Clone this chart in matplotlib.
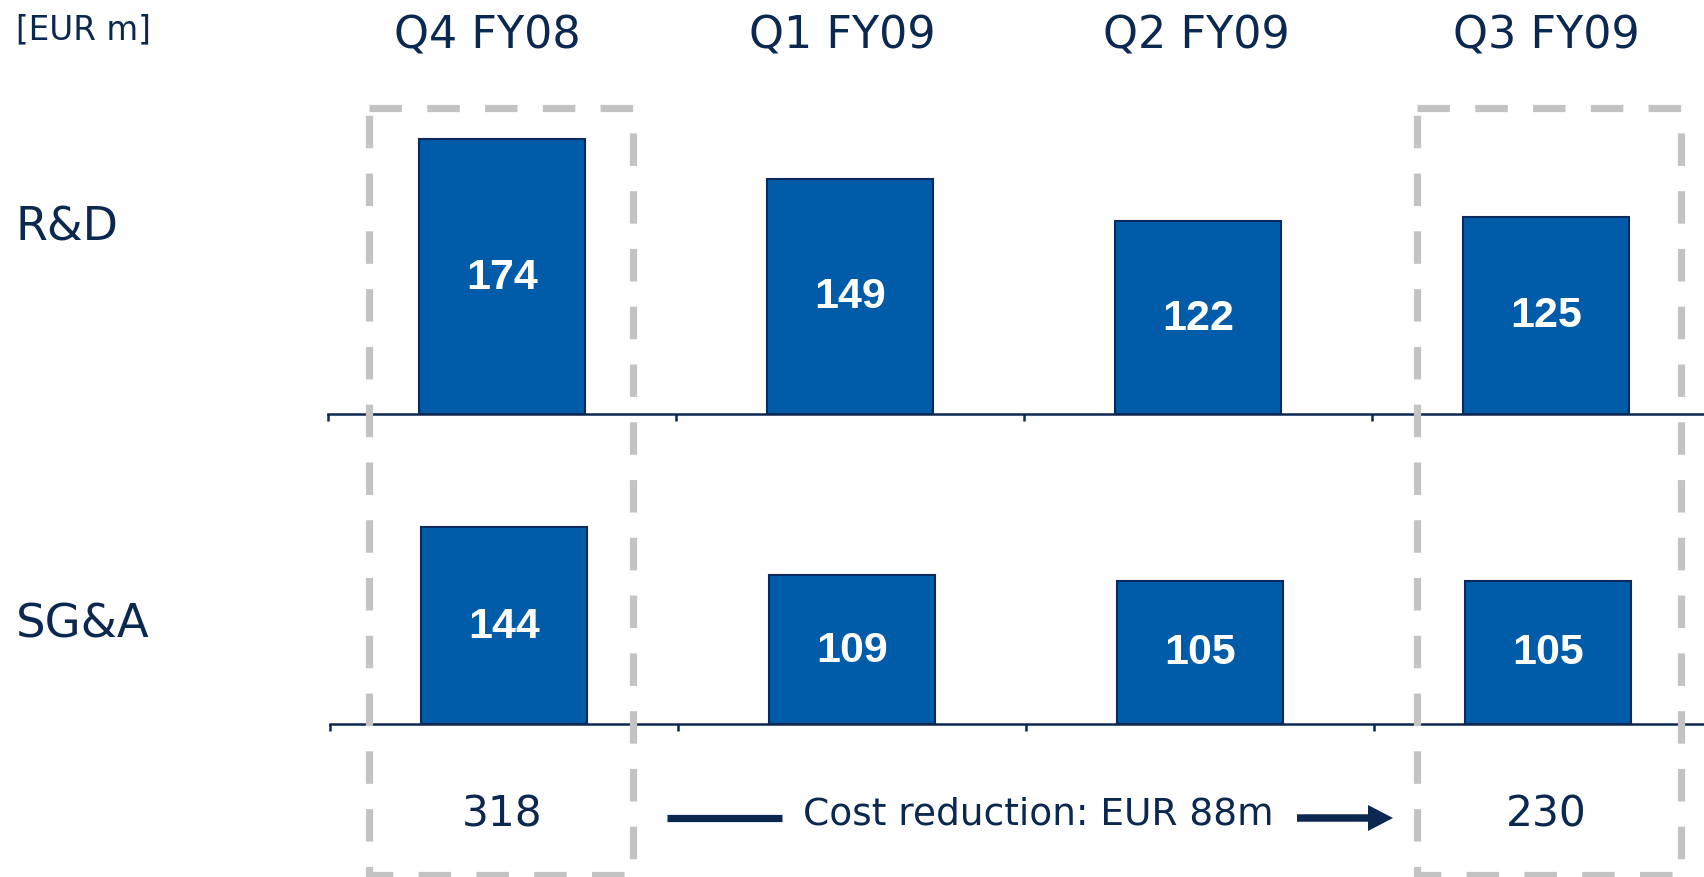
import matplotlib
matplotlib.use("Agg")
import matplotlib.pyplot as plt
import matplotlib.transforms as mtransforms
from matplotlib.patches import Rectangle

# ---- data ----
quarters = ["Q4 FY08", "Q1 FY09", "Q2 FY09", "Q3 FY09"]
rows = ["R&D", "SG&A"]
rd_values = [174, 149, 122, 125]
sga_values = [144, 109, 105, 105]
unit_label = "[EUR m]"

# ---- style / layout ----
NAVY = "#0B2850"
BLUE = "#005CA9"
EDGE = "#0A2A5C"
GREY = "#C3C3C3"
W, H = 1704, 878
DPI = 100
header_dx = [-15, -8, -2, 0]   # small horizontal nudges of the column headers (px)

fig = plt.figure(figsize=(W / DPI, H / DPI), dpi=DPI)
fig.patch.set_facecolor("white")

def px_axes(left, top, right, bottom):
    return fig.add_axes([left / W, 1 - bottom / H, (right - left) / W, (bottom - top) / H])

slot = 348.0
x0 = 328.0
n = len(quarters)

def setup_panel(ax, values):
    xs = [i + 0.5 for i in range(len(values))]
    ax.bar(xs, values, width=0.477, color=BLUE, edgecolor=EDGE, linewidth=1.5, zorder=2)
    for x, v in zip(xs, values):
        ax.text(x, v / 2, str(v), ha="center", va="center", color="white",
                fontsize=31, fontweight="bold",
                family=["Liberation Sans", "DejaVu Sans"])
    ax.set_xlim(0, len(values))
    ax.set_ylim(0, 200)
    for s in ["top", "left", "right"]:
        ax.spines[s].set_visible(False)
    ax.spines["bottom"].set_color(NAVY)
    ax.spines["bottom"].set_linewidth(1.8)
    ax.set_xticks(range(len(values)))
    ax.set_xticklabels([])
    ax.tick_params(axis="x", direction="out", length=5, width=1.8, color=NAVY)
    ax.set_yticks([])
    ax.patch.set_alpha(0)

# R&D panel: baseline 415 px, 1.58 px per unit
ax1 = px_axes(x0, 415 - 1.58 * 200, x0 + slot * n, 415)
setup_panel(ax1, rd_values)
# SG&A panel: baseline 725 px, 1.365 px per unit
ax2 = px_axes(x0 + 2, 725 - 1.365 * 200, x0 + 2 + slot * n, 725)
setup_panel(ax2, sga_values)

# overlay in pixel coordinates
ov = fig.add_axes([0, 0, 1, 1], zorder=5)
ov.set_xlim(0, W)
ov.set_ylim(H, 0)
ov.axis("off")
ov.patch.set_alpha(0)

txt_font = ["DejaVu Sans"]

ov.text(16, 30, unit_label, ha="left", va="center", fontsize=23.5, color=NAVY, family=txt_font)

blend = mtransforms.blended_transform_factory(ax1.transData, ov.transData)
for i, q in enumerate(quarters):
    off = mtransforms.offset_copy(blend, fig=fig, x=header_dx[i] * 72 / DPI, units="points")
    ov.text(i + 0.5, 36, q, transform=off, ha="center", va="center",
            fontsize=32, color=NAVY, family=txt_font)

ov.text(16, 228, rows[0], ha="left", va="center", fontsize=33, color=NAVY, family=txt_font)
ov.text(16, 625, rows[1], ha="left", va="center", fontsize=33.5, color=NAVY, family=txt_font)

total_first = rd_values[0] + sga_values[0]
total_last = rd_values[-1] + sga_values[-1]
ov.text(0.5, 815, str(total_first), transform=blend, ha="center", va="center",
        fontsize=30.5, color=NAVY, family=txt_font)
ov.text(n - 0.5, 815, str(total_last), transform=blend, ha="center", va="center",
        fontsize=30.5, color=NAVY, family=txt_font)

ov.text(1038, 815, f"Cost reduction: EUR {total_first - total_last}m", ha="center", va="center",
        fontsize=27, color=NAVY, family=txt_font)

# left line and arrow
ov.plot([667, 782], [819, 819], color=NAVY, lw=5.2, solid_capstyle="butt")
ov.arrow(1297, 819, 96, 0, width=7.5, head_width=26, head_length=25,
         length_includes_head=True, color=NAVY, lw=0)

# dashed highlight boxes
for (l, r) in [(369, 633), (1417, 1681)]:
    rect = Rectangle((l, 109), r - l, 876 - 109, fill=False, edgecolor=GREY,
                     linewidth=5.2, linestyle=(0, (4.5, 3.5)), zorder=6)
    ov.add_patch(rect)

fig.savefig("out.png", dpi=DPI, facecolor="white")
